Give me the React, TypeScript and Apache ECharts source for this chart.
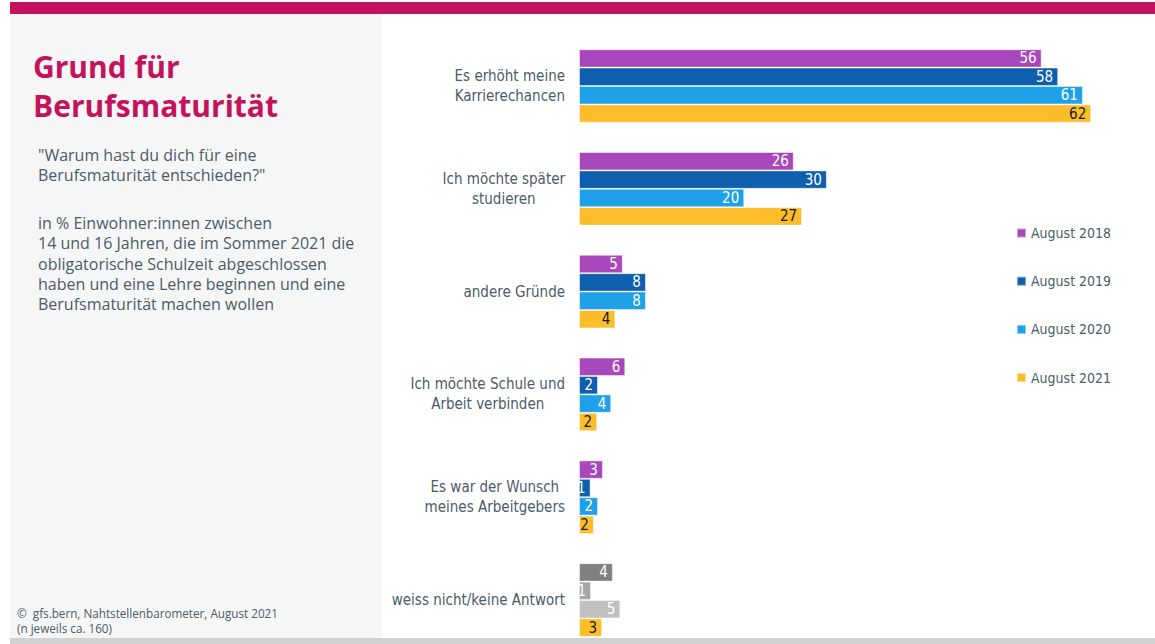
import React, { useEffect, useRef } from "react";
import * as echarts from "echarts";

const categories = [
  "Es erhöht meine\nKarrierechancen",
  "Ich möchte später\nstudieren",
  "andere Gründe",
  "Ich möchte Schule und\nArbeit verbinden",
  "Es war der Wunsch\nmeines Arbeitgebers",
  "weiss nicht/keine Antwort",
];
const seriesNames = ["August 2018", "August 2019", "August 2020", "August 2021"];
// bar lengths; labels show the rounded percentage
const values2018 = [56, 26, 5.3, 5.6, 2.9, 4.1];
const values2019 = [58, 30, 8.1, 2.3, 1.4, 1.45];
const values2020 = [61, 20, 8.1, 3.9, 2.3, 5.0];
const values2021 = [62, 27, 4.4, 2.2, 1.8, 2.8];
const allValues = [values2018, values2019, values2020, values2021];

const seriesColors = ["#a948bd", "#0e5fad", "#1fa1ea", "#fbbd29"];
const labelColors = ["#ffffff", "#ffffff", "#ffffff", "#1a1a1a"];
// the "weiss nicht" group uses grey tones for the first three years
const noAnswerColors = ["#808080", "#a6a6a6", "#c0c0c0", null];
const noAnswerIndex = 5;

const titleLines = ["Grund für", "Berufsmaturität"];
const questionText = '"Warum hast du dich für eine\nBerufsmaturität entschieden?"';
const baseText =
  "in % Einwohner:innen zwischen\n14 und 16 Jahren, die im Sommer 2021 die\nobligatorische Schulzeit abgeschlossen\nhaben und eine Lehre beginnen und eine\nBerufsmaturität machen wollen";
const sourceText = "©  gfs.bern, Nahtstellenbarometer, August 2021\n(n jeweils ca. 160)";

const condensed = "'Liberation Sans Narrow', 'DejaVu Sans Condensed', Roboto, sans-serif";
const sans = "'Open Sans', 'Noto Sans', sans-serif";
const textGrey = "#4b5b6a";

export default function App() {
  const ref = useRef<HTMLDivElement>(null);

  useEffect(() => {
    document.body.style.margin = "0";
    if (!ref.current) return;
    const chart = echarts.init(ref.current, null, { renderer: "svg" });

    const series = allValues.map((vals, s) => ({
      name: seriesNames[s],
      type: "bar",
      barWidth: 18.4,
      barGap: "0%",
      itemStyle: {
        color: seriesColors[s],
        borderColor: "rgba(255,255,255,0.45)",
        borderWidth: 1,
      },
      label: {
        show: true,
        position: "insideRight",
        distance: 5,
        overflow: "none",
        color: labelColors[s],
        fontFamily: condensed,
        fontSize: 15,
        formatter: (p: any) => String(Math.round(p.value)),
      },
      labelLayout: { hideOverlap: false },
      data: vals.map((v, i) =>
        i === noAnswerIndex && noAnswerColors[s]
          ? { value: v, itemStyle: { color: noAnswerColors[s] }, label: { color: "#ffffff" } }
          : v
      ),
    }));

    chart.setOption({
      animation: false,
      backgroundColor: "#ffffff",
      grid: { left: 579, width: 537, top: 86, height: 514 },
      xAxis: {
        type: "value",
        min: 0,
        max: 65,
        show: false,
      },
      yAxis: {
        type: "category",
        data: categories,
        inverse: true,
        boundaryGap: false,
        axisLine: { show: false },
        axisTick: { show: false },
        splitLine: { show: false },
        axisLabel: {
          margin: 14,
          align: "right",
          color: textGrey,
          fontFamily: condensed,
          fontSize: 15,
          lineHeight: 20,
          formatter: (v: string) =>
            v
              .split("\n")
              .map((l) => `{c|${l}}`)
              .join("\n"),
          rich: {
            c: {
              align: "center",
              color: textGrey,
              fontFamily: condensed,
              fontSize: 15,
              lineHeight: 20,
            },
          },
        },
      },
      legend: {
        orient: "vertical",
        left: 1016,
        top: 226,
        padding: 0,
        itemWidth: 9,
        itemHeight: 9,
        itemGap: 34.2,
        icon: "rect",
        data: seriesNames,
        textStyle: {
          color: textGrey,
          fontFamily: condensed,
          fontSize: 14,
          lineHeight: 14,
        },
      },
      graphic: [
        { type: "rect", shape: { x: 10, y: 2, width: 1145, height: 12 }, style: { fill: "#c4125d" }, silent: true },
        { type: "rect", shape: { x: 10, y: 14, width: 372, height: 624 }, style: { fill: "#f6f6f6" }, silent: true },
        { type: "rect", shape: { x: 10, y: 638, width: 1145, height: 6 }, style: { fill: "#d2d2d2" }, silent: true },
        {
          type: "text",
          x: 33,
          y: 66.5,
          style: { text: titleLines[0], fill: "#c4125d", font: `bold 30px ${sans}`, verticalAlign: "middle" },
          silent: true,
        },
        {
          type: "text",
          x: 33,
          y: 105,
          style: { text: titleLines[1], fill: "#c4125d", font: `bold 30px ${sans}`, verticalAlign: "middle" },
          silent: true,
        },
        {
          type: "text",
          x: 38,
          y: 145,
          style: { text: questionText, fill: textGrey, font: `16px ${sans}`, lineHeight: 20, verticalAlign: "top" },
          silent: true,
        },
        {
          type: "text",
          x: 38,
          y: 213,
          style: { text: baseText, fill: textGrey, font: `16px ${sans}`, lineHeight: 20.3, verticalAlign: "top" },
          silent: true,
        },
        {
          type: "text",
          x: 17,
          y: 605.5,
          style: { text: sourceText, fill: textGrey, font: `11.7px ${sans}`, lineHeight: 15, verticalAlign: "top" },
          silent: true,
        },
      ],
      series,
    });

    return () => chart.dispose();
  }, []);

  return (
    <div
      ref={ref}
      style={{ position: "absolute", left: 0, top: 0, width: 1155, height: 644 }}
    />
  );
}
